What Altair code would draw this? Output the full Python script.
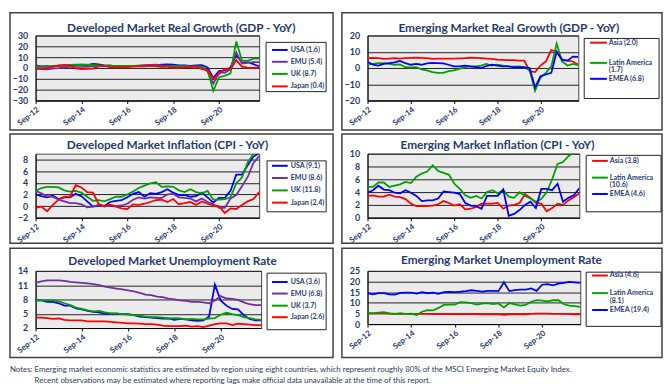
import altair as alt
import pandas as pd

# ---------------- data ----------------
n_q = 40  # quarterly points, Sep-12 .. Jun-22
tick_pos = [0, 8, 16, 24, 32]
tick_labels = ["Sep-12", "Sep-14", "Sep-16", "Sep-18", "Sep-20"]

dm_names = ["USA", "EMU", "UK", "Japan"]
dm_colors = ["#0000FF", "#7030A0", "#00A000", "#FF0000"]
em_names = ["Asia", "Latin America", "EMEA"]
em_colors = ["#FF0000", "#00A000", "#0000FF"]

# Developed market real GDP YoY
gdp_usa = [2.5, 1.5, 1.6, 1.2, 1.9, 2.6, 1.7, 2.6, 3.1, 2.6, 3.8, 3.3, 2.4, 2.2, 1.6, 1.3, 1.6, 2.0, 2.0, 2.2,
           2.3, 2.7, 3.0, 3.3, 3.1, 2.5, 2.3, 2.0, 2.3, 2.6, 0.6, -9.1, -2.9, -2.3, 0.5, 12.2, 4.9, 5.5, 3.5, 1.6]
gdp_emu = [-0.8, -1.0, -1.2, -0.5, -0.2, 0.5, 1.3, 0.9, 1.0, 1.3, 1.7, 2.0, 2.0, 2.1, 1.8, 1.7, 1.7, 2.0, 2.2, 2.6,
           2.9, 3.0, 2.5, 2.2, 1.7, 1.3, 1.6, 1.3, 1.5, 1.0, -3.2, -14.5, -4.1, -4.4, -1.0, 14.4, 4.0, 4.7, 5.4, 5.4]
gdp_uk = [1.6, 1.3, 1.3, 2.0, 2.0, 2.4, 2.8, 3.2, 3.0, 3.0, 2.7, 2.4, 2.2, 2.2, 1.8, 1.9, 2.0, 2.0, 2.1, 1.8,
          1.8, 1.6, 1.1, 1.4, 1.6, 1.4, 1.7, 1.3, 1.3, 1.2, -2.2, -21.0, -8.5, -7.3, -5.0, 24.5, 7.0, 6.6, 8.7, 8.7]
gdp_jpn = [0.0, -0.3, 0.1, 1.2, 2.3, 2.3, 2.5, -0.4, -1.1, -0.7, -0.5, 1.6, 1.9, 0.9, 0.6, 0.8, 0.9, 1.2, 1.4, 1.6,
           2.1, 2.0, 1.2, 1.3, 0.1, 0.2, 0.8, 0.9, 1.7, -1.0, -1.8, -10.1, -5.5, -0.9, -1.3, 7.3, 1.2, 0.4, 0.2, 0.4]
dm_gdp_latest = [1.6, 5.4, 8.7, 0.4]

# Emerging market real GDP YoY
gdp_asia = [6.0, 6.2, 6.0, 5.6, 5.8, 6.0, 5.8, 6.0, 6.2, 6.3, 6.2, 6.0, 5.6, 5.8, 5.8, 5.8, 5.7, 5.9, 6.0, 6.3,
            6.2, 6.0, 5.8, 5.6, 5.2, 5.0, 4.8, 4.8, 4.6, 4.5, -2.0, -2.5, 1.5, 4.0, 11.0, 10.0, 5.0, 4.5, 4.0, 2.0]
gdp_latam = [2.0, 2.5, 3.0, 3.0, 2.5, 2.0, 2.2, 0.5, 0.3, 0.5, -0.8, -1.5, -2.5, -3.0, -3.0, -2.0, -1.5, -0.5, 0.5, 1.0,
             1.0, 1.5, 2.5, 1.5, 2.0, 1.5, 1.0, 0.8, 1.0, 0.5, -1.5, -14.0, -6.0, -3.0, 1.0, 15.0, 4.0, 1.5, 2.5, 1.7]
gdp_emea = [3.8, 2.0, 1.5, 2.5, 3.0, 3.5, 4.3, 3.0, 2.0, 2.5, 2.0, 2.8, 3.2, 3.0, 2.8, 2.0, 1.0, 1.0, 1.5, 1.0,
            0.5, 0.0, 1.2, 2.0, 1.5, 1.0, 1.0, 0.5, 0.5, 0.3, 0.0, -12.0, -5.0, -4.0, -3.0, 10.0, 5.0, 4.5, 7.0, 6.8]
em_gdp_latest = [2.0, 1.7, 6.8]

# Developed market inflation (CPI YoY)
cpi_usa = [2.0, 1.7, 1.5, 1.8, 1.2, 1.5, 1.5, 2.1, 1.7, 0.8, -0.1, 0.1, 0.0, 0.7, 0.9, 1.0, 1.5, 2.1, 2.4, 1.6,
           2.2, 2.1, 2.4, 2.9, 2.3, 1.9, 1.9, 1.6, 1.7, 2.3, 1.5, 0.6, 1.4, 1.4, 2.6, 5.4, 5.4, 7.0, 8.5, 9.1]
cpi_emu = [2.6, 2.2, 1.7, 1.6, 1.1, 0.8, 0.5, 0.5, 0.3, -0.2, -0.1, 0.2, -0.1, 0.2, 0.0, 0.1, 0.4, 1.1, 1.5, 1.3,
           1.5, 1.4, 1.4, 2.0, 2.1, 1.5, 1.4, 1.3, 0.8, 1.3, 0.7, 0.3, -0.3, -0.3, 1.3, 1.9, 3.4, 5.0, 7.4, 8.6]
cpi_uk = [2.6, 3.1, 3.3, 3.3, 3.2, 2.7, 2.5, 2.6, 2.3, 1.6, 0.9, 1.0, 0.8, 1.2, 1.6, 1.6, 2.0, 2.5, 3.1, 3.5,
          3.9, 4.1, 3.3, 3.4, 3.3, 2.7, 2.4, 2.9, 2.4, 2.2, 2.6, 1.1, 1.1, 1.2, 1.5, 3.9, 4.9, 7.5, 9.0, 11.8]
cpi_jpn = [-0.3, -0.1, -0.9, 0.2, 1.1, 1.6, 1.6, 3.6, 3.2, 2.4, 2.3, 0.4, 0.0, 0.2, -0.1, -0.4, -0.5, 0.3, 0.2, 0.4,
           0.7, 1.0, 1.1, 0.7, 1.2, 0.3, 0.5, 0.7, 0.2, 0.8, 0.4, 0.1, 0.0, -1.2, -0.4, -0.5, 0.2, 0.8, 1.2, 2.4]
dm_cpi_latest = [9.1, 8.6, 11.8, 2.4]

# Emerging market inflation (CPI YoY)
cpi_asia = [3.4, 3.5, 3.3, 3.3, 3.6, 3.3, 3.2, 2.9, 2.2, 1.8, 1.8, 1.8, 1.9, 2.1, 2.6, 2.3, 1.9, 2.1, 1.3, 1.4,
            1.7, 2.2, 2.2, 2.2, 2.3, 1.4, 1.9, 2.0, 2.3, 3.7, 3.1, 2.3, 2.2, 1.0, 1.5, 2.2, 2.0, 2.7, 3.2, 3.8]
cpi_latam = [4.8, 4.8, 5.5, 5.5, 4.8, 5.0, 5.2, 5.6, 5.4, 6.4, 6.9, 7.2, 8.2, 7.3, 7.0, 6.7, 5.3, 4.5, 3.5, 3.1,
             3.4, 3.0, 4.0, 4.3, 3.8, 4.3, 3.3, 3.1, 4.0, 3.4, 3.0, 2.5, 2.9, 4.0, 6.0, 8.4, 8.7, 9.6, 10.2, 10.6]
cpi_emea = [3.9, 4.3, 5.0, 4.4, 4.3, 3.9, 3.8, 4.3, 3.9, 3.4, 2.6, 2.7, 2.7, 3.0, 4.1, 4.0, 3.9, 3.7, 2.3, 1.9,
            1.8, 1.4, 3.4, 3.4, 3.4, 4.4, 0.3, 0.6, 1.2, 2.0, 2.5, 1.5, 4.5, 4.5, 4.3, 5.3, 2.5, 3.1, 3.5, 4.6]
em_cpi_latest = [3.8, 10.6, 4.6]

# Developed market unemployment rate
ur_usa = [7.8, 7.8, 7.5, 7.5, 7.2, 6.7, 6.7, 6.1, 5.9, 5.6, 5.4, 5.3, 5.0, 5.0, 5.0, 4.9, 4.9, 4.7, 4.4, 4.3,
          4.2, 4.1, 4.0, 4.0, 3.7, 3.9, 3.8, 3.6, 3.5, 3.6, 4.4, 11.1, 7.8, 6.7, 6.0, 5.9, 4.7, 3.9, 3.6, 3.6]
ur_emu = [11.5, 11.8, 12.0, 12.0, 12.0, 11.9, 11.7, 11.6, 11.5, 11.4, 11.2, 11.0, 10.7, 10.5, 10.3, 10.1, 9.9, 9.7, 9.4, 9.0,
          8.9, 8.6, 8.5, 8.2, 8.0, 7.8, 7.7, 7.5, 7.5, 7.4, 7.2, 7.8, 8.7, 8.2, 8.1, 7.9, 7.4, 7.0, 6.8, 6.8]
ur_uk = [7.8, 7.8, 7.8, 7.8, 7.6, 7.2, 6.8, 6.3, 6.0, 5.7, 5.5, 5.6, 5.3, 5.1, 5.1, 4.9, 4.8, 4.7, 4.6, 4.4,
         4.3, 4.3, 4.2, 4.0, 4.1, 4.0, 3.8, 3.9, 3.8, 3.8, 4.0, 4.1, 4.8, 5.2, 4.9, 4.7, 4.3, 4.1, 3.8, 3.7]
ur_jpn = [4.2, 4.2, 4.1, 3.9, 4.0, 3.7, 3.6, 3.6, 3.6, 3.4, 3.4, 3.4, 3.4, 3.3, 3.2, 3.1, 3.0, 3.0, 2.9, 2.8,
          2.8, 2.7, 2.5, 2.4, 2.4, 2.4, 2.5, 2.3, 2.4, 2.2, 2.5, 2.8, 3.0, 3.0, 2.6, 2.9, 2.8, 2.7, 2.6, 2.6]
dm_ur_latest = [3.6, 6.8, 3.7, 2.6]

# Emerging market unemployment rate
ur_asia = [5.0, 5.0, 5.1, 5.0, 4.9, 4.8, 4.9, 4.8, 4.8, 4.8, 4.8, 4.8, 4.7, 4.7, 4.7, 4.7, 4.7, 4.7, 4.7, 4.7,
           4.7, 4.6, 4.6, 4.6, 4.6, 4.3, 4.6, 4.6, 4.6, 4.6, 4.8, 4.9, 4.9, 4.9, 4.8, 4.8, 4.8, 4.7, 4.6, 4.6]
ur_latam = [5.3, 5.0, 5.4, 5.6, 5.0, 4.8, 5.0, 4.8, 4.9, 4.3, 5.8, 6.6, 6.4, 7.6, 9.0, 9.1, 9.2, 10.3, 10.2, 9.8,
            9.2, 9.6, 9.9, 9.4, 9.7, 7.8, 9.8, 9.3, 8.7, 9.0, 10.5, 11.3, 11.0, 10.7, 11.2, 11.2, 9.3, 8.7, 8.4, 8.1]
ur_emea = [14.5, 14.0, 14.5, 14.5, 14.0, 13.8, 14.7, 14.8, 14.8, 14.3, 15.0, 14.5, 14.8, 14.2, 15.0, 15.1, 15.0, 15.2, 15.5, 15.9,
           15.6, 15.3, 15.6, 15.6, 15.5, 19.7, 15.5, 16.0, 16.2, 16.2, 16.8, 15.6, 18.5, 18.8, 18.2, 19.0, 19.4, 19.8, 19.6, 19.4]
em_ur_latest = [4.6, 8.1, 19.4]

notes = [
    "Notes: Emerging market economic statistics are estimated by region using eight countries, which represent roughly 80% of the MSCI Emerging Market Equity Index.",
    "Recent observations may be estimated where reporting lags make official data unavailable at the time of this report.",
]

# ---------------- styling ----------------
FONT = "Lato"
NAVY = "#1F3A73"
BOX = "#404040"
PLOT_BG = "#EBEBEB"
LEG_FS = 7.2

label_expr = "[" + ",".join("'%s'" % t for t in tick_labels) + "][round(datum.value / 8)]"


def one(txt):
    return pd.DataFrame({"t": [txt]})


def text_at(txt, x, y, size, weight="bold", color=NAVY, align="left", baseline="middle"):
    return alt.Chart(one(txt)).mark_text(
        font=FONT, fontSize=size, fontWeight=weight, color=color, align=align, baseline=baseline
    ).encode(x=alt.value(x), y=alt.value(y), text="t:N")


def panel(title, names, colors, series, latest, y_dom, y_vals, W, H, box, title_xy,
          leg_box, sample_x, label_x, item_y, wrap_dy):
    x_enc = alt.X("q:Q", scale=alt.Scale(domain=[0, n_q - 1], nice=False, zero=False),
                  axis=alt.Axis(values=tick_pos, labelExpr=label_expr, title=None, grid=False,
                                ticks=True, tickSize=3, tickColor="#000", domainColor="#000",
                                labelAngle=322, labelAlign="right", labelBaseline="top",
                                labelPadding=2, labelFont=FONT, labelFontSize=8,
                                labelFontWeight="bold", labelColor=NAVY))
    y_enc = alt.Y("v:Q", scale=alt.Scale(domain=y_dom, nice=False, zero=False),
                  axis=alt.Axis(values=y_vals, title=None, grid=True, gridColor="#222",
                                gridWidth=1, ticks=False, domainColor="#000",
                                labelPadding=8, labelFont=FONT, labelFontSize=9,
                                labelFontWeight="bold", labelColor=NAVY))

    layers = []
    # outer box
    layers.append(alt.Chart(one("")).mark_rect(fillOpacity=0, stroke=BOX, strokeWidth=1.5).encode(
        x=alt.value(box[0]), x2=alt.value(box[2]), y=alt.value(box[1]), y2=alt.value(box[3])))
    # one line per series, drawn through the shared x / y scales
    for n, c, vals in zip(names, colors, series):
        df = pd.DataFrame({"q": list(range(len(vals))), "v": vals})
        layers.append(alt.Chart(df).mark_line(strokeWidth=1.8, clip=True, color=c).encode(
            x=x_enc, y=y_enc, order=alt.Order("q:Q")))
    # title
    layers.append(text_at(title, title_xy[0], title_xy[1], 12, align="center", baseline="alphabetic"))
    # legend
    layers.append(alt.Chart(one("")).mark_rect(fillOpacity=0, stroke="#222", strokeWidth=1).encode(
        x=alt.value(leg_box[0]), x2=alt.value(leg_box[2]), y=alt.value(leg_box[1]), y2=alt.value(leg_box[3])))
    for n, c, val, yy in zip(names, colors, latest, item_y):
        layers.append(alt.Chart(one(n)).mark_rule(color=c, strokeWidth=2).encode(
            x=alt.value(sample_x[0]), x2=alt.value(sample_x[1]), y=alt.value(yy)))
        if n == "Latin America" and wrap_dy:
            layers.append(text_at(n, label_x, yy, LEG_FS))
            layers.append(text_at("(%.1f)" % val, label_x, yy + wrap_dy, LEG_FS))
        else:
            layers.append(text_at("%s (%.1f)" % (n, val), label_x, yy, LEG_FS))

    return alt.layer(*layers).properties(
        width=W, height=H, view=alt.ViewBackground(fill=PLOT_BG, stroke="#444", strokeWidth=1))


p1 = panel("Developed Market Real Growth (GDP - YoY)", dm_names, dm_colors,
           [gdp_usa, gdp_emu, gdp_uk, gdp_jpn], dm_gdp_latest, [-30, 30], [-30, -20, -10, 0, 10, 20, 30],
           227, 66, (-26, -23, 302, 96), (148, -3.5),
           (234, 7, 295, 57), (240, 256), 259, [14.7, 26.7, 39, 51.7], 0)
p2 = panel("Emerging Market Real Growth (GDP - YoY)", em_names, em_colors,
           [gdp_asia, gdp_latam, gdp_emea], em_gdp_latest, [-20, 20], [-20, -10, 0, 10, 20],
           214, 66, (-26, -23, 299, 96), (143.5, -3.5),
           (220, 3, 296, 64), (226, 243), 245, [7.3, 27.8, 44], 7.7)
p3 = panel("Developed Market Inflation (CPI - YoY)", dm_names, dm_colors,
           [cpi_usa, cpi_emu, cpi_uk, cpi_jpn], dm_cpi_latest, [-2, 9], [-2, 0, 2, 4, 6, 8],
           227, 65, (-26, -20, 302, 91), (134, -4.3),
           (235, 7.3, 295, 59), (240, 256), 259, [12.3, 24.7, 37.3, 49.7], 0)
p4 = panel("Emerging Market Inflation (CPI - YoY)", em_names, em_colors,
           [cpi_asia, cpi_latam, cpi_emea], em_cpi_latest, [0, 10], [0, 2, 4, 6, 8, 10],
           215, 65, (-26, -20, 299, 91), (132, -4.3),
           (222, 1.7, 298, 59), (228, 244), 246, [7.3, 24.3, 40.9], 8.0)
p5 = panel("Developed Market Unemployment Rate", dm_names, dm_colors,
           [ur_usa, ur_emu, ur_uk, ur_jpn], dm_ur_latest, [2, 14], [2, 5, 8, 11, 14],
           229, 58, (-26, -23, 302, 88), (139, -6.3),
           (235, 2.3, 295, 59.7), (240, 256), 259, [11.3, 23, 35.3, 47], 0)
p6 = panel("Emerging Market Unemployment Rate", em_names, em_colors,
           [ur_asia, ur_latam, ur_emea], em_ur_latest, [0, 25], [0, 5, 10, 15, 20, 25],
           216, 54, (-26, -23, 299, 88), (136, -7),
           (222, 1.3, 298, 56.3), (228, 244), 246, [4.7, 22.6, 39.7], 8.3)

note_chart = alt.layer(
    text_at(notes[0], -26, -11, 8.0, weight="normal", color="#2E3A55"),
    text_at(notes[1], -1, 0, 8.0, weight="normal", color="#2E3A55"),
).properties(width=10, height=4, view=alt.ViewBackground(stroke="transparent", fill="transparent"))

chart = alt.concat(
    p1, p2, p3, p4, p5, p6, note_chart,
    columns=2, bounds="flush", spacing={"row": 54, "column": 108},
).properties(padding=0, background="white").configure_view(stroke="transparent")

chart.save("out.html", embed_options={"renderer": "svg", "actions": False})
